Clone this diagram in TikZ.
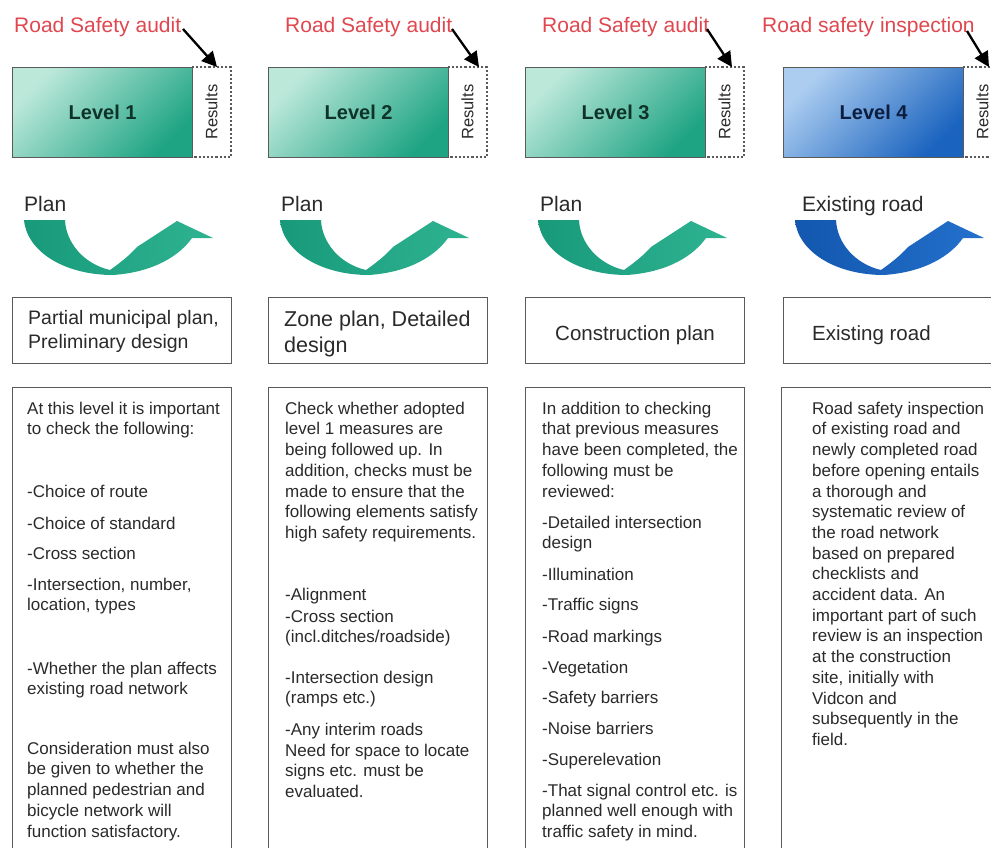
\documentclass[tikz,border=0pt]{standalone}
\usepackage{fontspec}
\setmainfont{Liberation Sans}
\usetikzlibrary{arrows.meta}
\definecolor{hdrred}{HTML}{E0474F}
\definecolor{grnA}{HTML}{BCE8DA}
\definecolor{grnB}{HTML}{1EA483}
\definecolor{grnT}{HTML}{0F3329}
\definecolor{bluA}{HTML}{ACCDF0}
\definecolor{bluB}{HTML}{1A63BF}
\definecolor{bluT}{HTML}{0B1E40}
\definecolor{txt}{HTML}{2A2A2A}
\definecolor{edge}{HTML}{5A5A5A}
\definecolor{arrGa}{HTML}{189A7A}
\definecolor{arrGb}{HTML}{2EB391}
\definecolor{arrBa}{HTML}{1357AE}
\definecolor{arrBb}{HTML}{2370CC}
\newcommand{\bpar}[4]{\node[btxt] (#1) at (#2,{#3-13}) {\rule{0pt}{13pt}#4};}
\newcommand{\uarrow}[3]{%
  \begin{scope}[xshift=#1pt]
  \path[left color=#2, right color=#3]
    (24,220) -- (65,220) .. controls (66,243) and (84,264) .. (110,270)
    .. controls (120,263) and (130,255) .. (137,247) -- (177,221) -- (213,238) -- (192,238)
    .. controls (180,255) and (155,272) .. (113,275)
    .. controls (65,275) and (27,252) .. (24,220) -- cycle;
  \end{scope}}
\begin{document}
\begin{tikzpicture}[x=1pt,y=-1pt,
  hdr/.style={font=\fontsize{21}{25}\selectfont, text=hdrred, inner sep=0, anchor=base west},
  lev/.style={draw=edge, line width=1.3pt, minimum width=180pt, minimum height=90pt, inner sep=0, anchor=north west, font=\bfseries\fontsize{20}{24}\selectfont},
  gshade/.style={top color=grnA, bottom color=grnB, shading angle=45, text=grnT},
  bshade/.style={top color=bluA, bottom color=bluB, shading angle=45, text=bluT},
  res/.style={draw=edge, line width=1.1pt, dash pattern=on 2.2pt off 2pt, minimum width=90pt, minimum height=39pt, rotate=90, inner sep=0, font=\fontsize{16.5}{20}\selectfont, text=txt},
  ptr/.style={line width=2.3pt, -{Triangle[length=15pt,width=15pt]}},
  lbl/.style={font=\fontsize{21}{25}\selectfont, text=txt, inner sep=0, anchor=base west},
  cbox/.style={draw=edge, line width=1.2pt, inner sep=0, anchor=north west, minimum width=219pt},
  btxt/.style={font=\fontsize{17}{20.7}\selectfont, text=txt, inner sep=0, anchor=north west, align=left}
]
\useasboundingbox (0,0) rectangle (991,847);
\fill[white] (0,0) rectangle (991,847);
\clip (0,0) rectangle (991,847);

% ---------- headers ----------
\node[hdr] (hdr1) at (14,32) {Road Safety audit};
\node[hdr] (hdr2) at (285,32) {Road Safety audit};
\node[hdr] (hdr3) at (542,32) {Road Safety audit};
\node[hdr] (hdr4) at (762,32) {Road safety inspection};

% ---------- level boxes ----------
\node[res] (res1) at (211.5,112) {Results};
\node[res] (res2) at (467.5,112) {Results};
\node[res] (res3) at (724.5,112) {Results};
\node[res] (res4) at (982.5,112) {Results};
\node[lev, gshade] (lev1) at (12,67) {Level 1};
\node[lev, gshade] (lev2) at (268,67) {Level 2};
\node[lev, gshade] (lev3) at (525,67) {Level 3};
\node[lev, bshade] (lev4) at (783,67) {Level 4};

\coordinate (s1) at (183,29); \coordinate (e1) at (217,67);
\coordinate (s2) at (452,29); \coordinate (e2) at (479,67);
\coordinate (s3) at (707,29); \coordinate (e3) at (732,67);
\coordinate (s4) at (967,31); \coordinate (e4) at (989,67);
\draw[ptr] (s1) -- (e1);
\draw[ptr] (s2) -- (e2);
\draw[ptr] (s3) -- (e3);
\draw[ptr] (s4) -- (e4);

% ---------- plan labels and curved arrows ----------
\node[lbl] (pl1) at (24,211) {Plan};
\node[lbl] (pl2) at (281,211) {Plan};
\node[lbl] (pl3) at (540,211) {Plan};
\node[lbl] (pl4) at (802,211) {Existing road};
\uarrow{0}{arrGa}{arrGb}
\uarrow{256}{arrGa}{arrGb}
\uarrow{514}{arrGa}{arrGb}
\uarrow{771}{arrBa}{arrBb}

% ---------- middle boxes ----------
\node[cbox, minimum height=66pt] (mid1) at (12,297) {};
\node[cbox, minimum height=66pt] (mid2) at (268,297) {};
\node[cbox, minimum height=66pt] (mid3) at (525,297) {};
\node[cbox, minimum height=66pt] (mid4) at (783,297) {};
\node[lbl, font=\fontsize{19.5}{24}\selectfont, anchor=north west, align=left] (mt1) at (28,{324-15}) {\rule{0pt}{15pt}Partial municipal plan,\\Preliminary design};
\node[lbl, font=\fontsize{21.5}{26}\selectfont, anchor=north west, align=left] (mt2) at (284,{326-16}) {\rule{0pt}{16pt}Zone plan, Detailed\\design};
\node[lbl, font=\fontsize{20.5}{25}\selectfont] (mt3) at (555,340) {Construction plan};
\node[lbl, font=\fontsize{20.5}{25}\selectfont] (mt4) at (812,340) {Existing road};

% ---------- bottom boxes ----------
\node[cbox, minimum height=480pt] (bot1) at (12,387) {};
\node[cbox, minimum height=480pt] (bot2) at (268,387) {};
\node[cbox, minimum height=480pt] (bot3) at (525,387) {};
\node[cbox, minimum height=480pt, minimum width=221pt] (bot4) at (781,387) {};

% column 1
\bpar{c1a}{27}{414}{At this level it is important\\to check the following:}
\bpar{c1b}{27}{497}{-Choice of route}
\bpar{c1c}{27}{529}{-Choice of standard}
\bpar{c1d}{27}{559}{-Cross section}
\bpar{c1e}{27}{590}{-Intersection, number,\\location, types}
\bpar{c1f}{27}{674}{-Whether the plan affects\\existing road network}
\bpar{c1g}{27}{754}{Consideration must also\\be given to whether the\\planned pedestrian and\\bicycle network will\\function satisfactory.}

% column 2
\bpar{c2a}{285}{414}{Check whether adopted\\level 1 measures are\\being followed up. In\\addition, checks must be\\made to ensure that the\\following elements satisfy\\high safety requirements.}
\bpar{c2b}{285}{600}{-Alignment}
\bpar{c2c}{285}{622}{-Cross section\\(incl.ditches/roadside)}
\bpar{c2d}{285}{683}{-Intersection design\\(ramps etc.)}
\bpar{c2e}{285}{735}{-Any interim roads}
\bpar{c2f}{285}{756}{Need for space to locate\\signs etc. must be\\evaluated.}

% column 3
\bpar{c3a}{542}{414}{In addition to checking\\that previous measures\\have been completed, the\\following must be\\reviewed:}
\bpar{c3b}{542}{528}{-Detailed intersection\\design}
\bpar{c3c}{542}{580}{-Illumination}
\bpar{c3d}{542}{610}{-Traffic signs}
\bpar{c3e}{542}{642}{-Road markings}
\bpar{c3f}{542}{673}{-Vegetation}
\bpar{c3g}{542}{703}{-Safety barriers}
\bpar{c3h}{542}{734}{-Noise barriers}
\bpar{c3i}{542}{765}{-Superelevation}
\bpar{c3j}{542}{796}{-That signal control etc. is\\planned well enough with\\traffic safety in mind.}

% column 4
\bpar{c4a}{812}{414}{Road safety inspection\\of existing road and\\newly completed road\\before opening entails\\a thorough and\\systematic review of\\the road network\\based on prepared\\checklists and\\accident data. An\\important part of such\\review is an inspection\\at the construction\\site, initially with\\Vidcon and\\subsequently in the\\field.}
\end{tikzpicture}
\end{document}
